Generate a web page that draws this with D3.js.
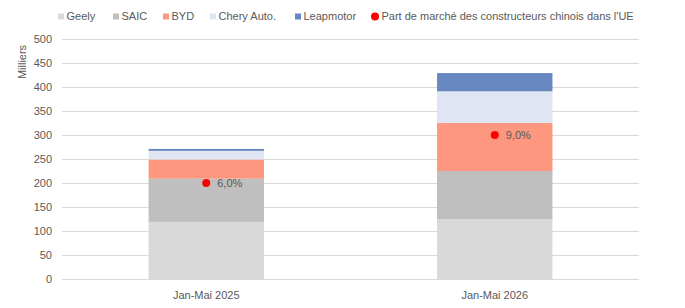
<!DOCTYPE html>
<html lang="fr">
<head>
    <meta charset="utf8">
    <title>Constructeurs chinois UE</title>
    <script src="https://d3js.org/d3.v7.min.js"></script>
    <style>
        body { margin: 0; background: #fff; }
        svg { display: block; font-family: "Liberation Sans", Arial, sans-serif; }
    </style>
</head>
<body>
    <svg id="chart" width="685" height="308"></svg>
    <script>
        // data (milliers de vehicules)
        const categories = ["Jan-Mai 2025", "Jan-Mai 2026"];
        const brands = ["Geely", "SAIC", "BYD", "Chery Auto.", "Leapmotor"];
        const geely = [119, 124];
        const saic = [90, 101];
        const byd = [40, 100];
        const chery = [18, 66];
        const leapmotor = [4, 38];
        const share = [0.06, 0.09];
        const yTicks = [0, 50, 100, 150, 200, 250, 300, 350, 400, 450, 500];

        const colors = ["#d9d9d9", "#bfbfbf", "#fd977f", "#dfe5f2", "#6788c1"];
        const textColor = "#595959";

        const svg = d3.select("#chart");
        const margin = {top: 39, right: 46, bottom: 29, left: 62};
        const width = 685 - margin.left - margin.right;
        const height = 308 - margin.top - margin.bottom;

        const rows = categories.map((c, i) => ({
            cat: c,
            "Geely": geely[i], "SAIC": saic[i], "BYD": byd[i],
            "Chery Auto.": chery[i], "Leapmotor": leapmotor[i],
            share: share[i]
        }));

        const x = d3.scaleBand().domain(categories).range([0, width]).paddingInner(0.6).paddingOuter(0.3);
        const y = d3.scaleLinear().domain([0, 500]).range([height, 0]);
        const y2 = d3.scaleLinear().domain([0, 0.15]).range([height, 0]);

        const g = svg.append("g").attr("transform", `translate(${margin.left},${margin.top})`);

        // gridlines
        g.append("g")
            .selectAll("line")
            .data(yTicks)
            .join("line")
            .attr("x1", 0).attr("x2", width)
            .attr("y1", d => y(d) + 0.5).attr("y2", d => y(d) + 0.5)
            .attr("stroke", "#d9d9d9")
            .attr("stroke-width", 1);

        // y axis labels
        const yAxis = g.append("g")
            .call(d3.axisLeft(y).tickValues(yTicks).tickSize(0).tickPadding(10));
        yAxis.select(".domain").remove();
        yAxis.selectAll("text").attr("fill", textColor).style("font-size", "11px");

        svg.append("text")
            .attr("transform", "translate(26,62) rotate(-90)")
            .attr("text-anchor", "middle")
            .attr("fill", textColor)
            .style("font-size", "11px")
            .text("Milliers");

        // stacked bars
        const stack = d3.stack().keys(brands)(rows);
        g.append("g")
            .selectAll("g")
            .data(stack)
            .join("g")
            .attr("fill", (d, i) => colors[i])
            .selectAll("rect")
            .data(d => d)
            .join("rect")
            .attr("x", d => x(d.data.cat))
            .attr("width", x.bandwidth())
            .attr("y", d => y(d[1]))
            .attr("height", d => y(d[0]) - y(d[1]));

        // x axis labels
        const xAxis = g.append("g")
            .attr("transform", `translate(0,${height})`)
            .call(d3.axisBottom(x).tickSize(0).tickPadding(12));
        xAxis.select(".domain").remove();
        xAxis.selectAll("text").attr("fill", textColor).style("font-size", "11px");

        // market share points (hidden secondary axis)
        g.append("g")
            .selectAll("circle")
            .data(rows)
            .join("circle")
            .attr("cx", d => x(d.cat) + x.bandwidth() / 2)
            .attr("cy", d => y2(d.share))
            .attr("r", 4)
            .attr("fill", "#ff0000");

        const fmt = d => d3.format(".1f")(d * 100).replace(".", ",") + "%";
        g.append("g")
            .selectAll("text")
            .data(rows)
            .join("text")
            .attr("x", d => x(d.cat) + x.bandwidth() / 2 + 11)
            .attr("y", d => y2(d.share))
            .attr("dy", "0.35em")
            .attr("fill", textColor)
            .style("font-size", "11px")
            .text(d => fmt(d.share));

        // legend
        const legendItems = brands.map((b, i) => ({label: b, color: colors[i], type: "square"}))
            .concat([{label: "Part de marché des constructeurs chinois dans l'UE", color: "#ff0000", type: "circle"}]);
        const legendX = [58, 113, 163, 210, 295, 371];

        const legend = svg.append("g").attr("transform", "translate(0,16.5)");
        const items = legend.selectAll("g")
            .data(legendItems)
            .join("g")
            .attr("transform", (d, i) => `translate(${legendX[i]},0)`);

        items.filter(d => d.type === "square")
            .append("rect")
            .attr("x", 0).attr("y", -3)
            .attr("width", 6).attr("height", 6)
            .attr("fill", d => d.color);

        items.filter(d => d.type === "circle")
            .append("circle")
            .attr("cx", 4).attr("cy", 0).attr("r", 4)
            .attr("fill", d => d.color);

        items.append("text")
            .attr("x", d => d.type === "circle" ? 10.5 : 8.5)
            .attr("y", 0)
            .attr("dy", "0.35em")
            .attr("fill", textColor)
            .style("font-size", "11px")
            .text(d => d.label);
    </script>
</body>
</html>
